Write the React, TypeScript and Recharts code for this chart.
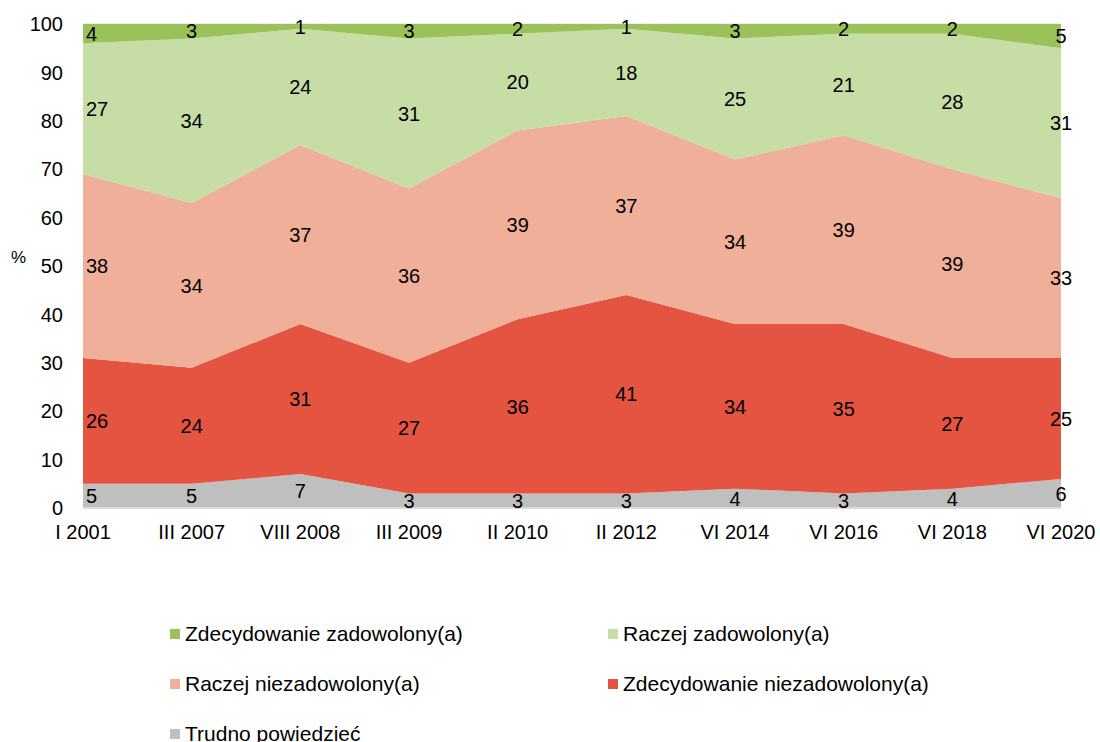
import React from 'react';
import { ComposedChart, Area, Line, XAxis, YAxis, CartesianGrid, LabelList, Label } from 'recharts';

const categories = ['I 2001', 'III 2007', 'VIII 2008', 'III 2009', 'II 2010', 'II 2012', 'VI 2014', 'VI 2016', 'VI 2018', 'VI 2020'];
const trudno = [5, 5, 7, 3, 3, 3, 4, 3, 4, 6];
const zdecNiezad = [26, 24, 31, 27, 36, 41, 34, 35, 27, 25];
const raczejNiezad = [38, 34, 37, 36, 39, 37, 34, 39, 39, 33];
const raczejZad = [27, 34, 24, 31, 20, 18, 25, 21, 28, 31];
const zdecZad = [4, 3, 1, 3, 2, 1, 3, 2, 2, 5];
const yTicks = [0, 10, 20, 30, 40, 50, 60, 70, 80, 90, 100];

const series = [
  { key: 'trudno', name: 'Trudno powiedzieć', values: trudno, color: '#BFBFBF' },
  { key: 'zdecNiezad', name: 'Zdecydowanie niezadowolony(a)', values: zdecNiezad, color: '#E55341' },
  { key: 'raczejNiezad', name: 'Raczej niezadowolony(a)', values: raczejNiezad, color: '#F0AF98' },
  { key: 'raczejZad', name: 'Raczej zadowolony(a)', values: raczejZad, color: '#C6DDA5' },
  { key: 'zdecZad', name: 'Zdecydowanie zadowolony(a)', values: zdecZad, color: '#9BC25A' },
];

const legendOrder = ['zdecZad', 'raczejZad', 'raczejNiezad', 'zdecNiezad', 'trudno'];

const data = categories.map((cat, i) => {
  const row: any = { cat };
  let base = 0;
  series.forEach((s) => {
    row[s.key] = s.values[i];
    row[s.key + '_mid'] = base + s.values[i] / 2;
    base += s.values[i];
  });
  return row;
});

const FONT = '"Liberation Sans", Arial, sans-serif';
const FS = 20;

const makeLabel = (key: string) => (props: any) => {
  const { x, y, index } = props;
  const v = data[index][key];
  const first = index === 0;
  return (
    <text
      x={first ? x + 3 : x}
      y={y}
      dy="0.36em"
      textAnchor={first ? 'start' : 'middle'}
      fontSize={FS}
      fontFamily={FONT}
      fill="#000"
    >
      {v}
    </text>
  );
};

const CustomLegend = () => (
  <div style={{ position: 'absolute', left: 170, top: 622, display: 'grid', gridTemplateColumns: '438px 438px', rowGap: '26px', fontFamily: FONT, fontSize: 21, color: '#000' }}>
    {legendOrder.map((k) => {
      const s = series.find((x) => x.key === k)!;
      return (
        <div key={k} style={{ display: 'flex', alignItems: 'center', height: 24, whiteSpace: 'nowrap' }}>
          <span style={{ display: 'inline-block', width: 10, height: 10, background: s.color, marginRight: 5 }} />
          <span>{s.name}</span>
        </div>
      );
    })}
  </div>
);

const PercentLabel = (props: any) => {
  const { viewBox } = props;
  return (
    <text x={viewBox.x + 11} y={viewBox.y + viewBox.height / 2 - 9} dy="0.36em" textAnchor="start" fontSize={17} fontFamily={FONT} fill="#000">
      %
    </text>
  );
};

export default function App() {
  return (
    <div style={{ position: 'absolute', left: 0, top: 0, width: 1100, height: 742, background: '#fff', overflow: 'hidden' }}>
      <ComposedChart width={1100} height={742} data={data} margin={{ top: 24, right: 39, left: 0, bottom: 194 }}>
        <CartesianGrid horizontal vertical={false} stroke="#D9D9D9" />
        <XAxis
          dataKey="cat"
          height={40}
          axisLine={{ stroke: '#D9D9D9', strokeWidth: 2 }}
          tickLine={false}
          tickMargin={11}
          interval={0}
          tick={{ fontSize: FS, fontFamily: FONT, fill: '#000' }}
        />
        <YAxis
          width={83}
          domain={[0, 100]}
          ticks={yTicks}
          axisLine={false}
          tickLine={false}
          tickMargin={14}
          tick={{ fontSize: FS, fontFamily: FONT, fill: '#000' }}
        >
          <Label content={PercentLabel} />
        </YAxis>
        {series.map((s) => (
          <Area
            key={s.key}
            type="linear"
            dataKey={s.key}
            name={s.name}
            stackId="1"
            fill={s.color}
            fillOpacity={1}
            stroke="none"
            isAnimationActive={false}
            legendType="none"
          />
        ))}
        {series.map((s) => (
          <Line
            key={s.key + '_mid'}
            type="linear"
            dataKey={s.key + '_mid'}
            stroke="none"
            dot={false}
            activeDot={false}
            isAnimationActive={false}
            legendType="none"
          >
            <LabelList dataKey={s.key + '_mid'} content={makeLabel(s.key)} />
          </Line>
        ))}
      </ComposedChart>
      <CustomLegend />
    </div>
  );
}
